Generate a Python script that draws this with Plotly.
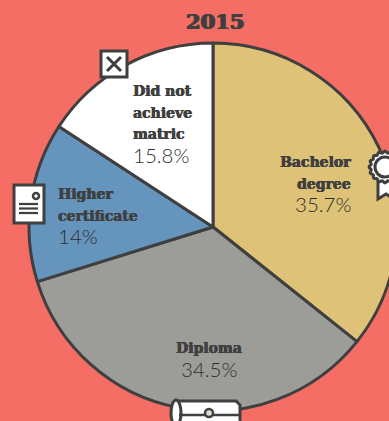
import math
import plotly.graph_objects as go

categories = ["Bachelor degree", "Diploma", "Higher certificate", "Did not achieve matric"]
values = [35.7, 34.5, 14, 15.8]
value_labels = ["35.7%", "34.5%", "14%", "15.8%"]
label_lines = [["Bachelor", "degree"], ["Diploma"], ["Higher", "certificate"], ["Did not", "achieve", "matric"]]
colors = ["#DEC277", "#9C9D98", "#6594BD", "#FFFFFF"]
title = "2015"

W, H = 430, 421
BG = "#F56E66"
DARK = "#3F3F3F"
CX, CY, R = 213, 227, 184


def px(x):
    return x / W


def py(y):
    return 1 - y / H


fig = go.Figure(go.Pie(
    labels=categories, values=values, sort=False, direction="clockwise", rotation=0,
    marker=dict(colors=colors, line=dict(color=DARK, width=3)),
    textinfo="none", hoverinfo="label+percent", showlegend=False,
    domain=dict(x=[(CX - R) / W, (CX + R) / W], y=[py(CY + R), py(CY - R)]),
))

ann = []


def text(x, y, s, size, family, anchor="left", shadow=None, color=DARK):
    font = dict(family=family, size=size, color=color)
    if shadow:
        font["shadow"] = shadow
    ann.append(dict(x=px(x), y=py(y), xref="paper", yref="paper", text=s, showarrow=False,
                    xanchor=anchor, yanchor="middle", align=anchor, font=font,
                    borderpad=0, borderwidth=0))


LBL = "DejaVu Serif"
NUM = "Lato Light, Lato"
HEAVY = f"0.5px 0 0 {DARK}, -0.3px 0 0 {DARK}"
text(215, 22, f"<b>{title}</b>", 21, LBL, "center", shadow=f"0.8px 0 0 {DARK}, -0.8px 0 0 {DARK}")

# (x, first line y, line step, anchor, value y)
placement = [
    (351, 162, 21.5, "right", 205),
    (209, 348, 0, "center", 370),
    (58, 194, 22, "left", 237),
    (133, 91, 21.5, "left", 156),
]
for lines, val, (x, y0, step, anchor, vy) in zip(label_lines, value_labels, placement):
    for i, ln in enumerate(lines):
        text(x, y0 + i * step, f"<b>{ln}</b>", 14, LBL, anchor, shadow=HEAVY)
    text(x, vy - 1, val, 20.5, NUM, anchor, color="#2E2E2E")

shapes = []
LINE = dict(color=DARK, width=3)


def rect(x0, y0, x1, y1, fill="#FFFFFF", line=LINE):
    shapes.append(dict(type="rect", xref="paper", yref="paper", x0=px(x0), x1=px(x1),
                       y0=py(y0), y1=py(y1), fillcolor=fill, line=line, layer="above"))


def seg(x0, y0, x1, y1, width=3):
    shapes.append(dict(type="line", xref="paper", yref="paper", x0=px(x0), x1=px(x1),
                       y0=py(y0), y1=py(y1), line=dict(color=DARK, width=width), layer="above"))


def circle(cx, cy, r, fill="#FFFFFF", width=3):
    shapes.append(dict(type="circle", xref="paper", yref="paper", x0=px(cx - r), x1=px(cx + r),
                       y0=py(cy + r), y1=py(cy - r), fillcolor=fill,
                       line=dict(color=DARK, width=width), layer="above"))


def path(points, fill="#FFFFFF"):
    d = "M " + " L ".join(f"{px(x):.5f},{py(y):.5f}" for x, y in points) + " Z"
    shapes.append(dict(type="path", xref="paper", yref="paper", path=d, fillcolor=fill,
                       line=LINE, layer="above"))


# cross box
rect(101, 51, 127, 77)
seg(107, 57, 121, 71)
seg(121, 57, 107, 71)

# document
rect(14, 185, 44, 223)
circle(36, 196, 3, fill="#FFFFFF", width=2.5)
for yy in (204, 208.5, 213):
    seg(19, yy, 38, yy, 2.2)

# rosette ribbon and badge
path([(378, 178), (378, 199), (386, 194), (394, 199), (394, 178)])
pts = []
for k in range(160):
    a = 2 * math.pi * k / 160
    r = 15 + 0.9 * math.cos(16 * a)
    pts.append((385 + r * math.cos(a), 167 + r * math.sin(a)))
path(pts)
circle(385, 167, 10, fill="#FFFFFF", width=3)

# scroll
path([(176, 401), (236, 401), (240, 405), (240, 425), (176, 425)])
shapes.append(dict(type="circle", xref="paper", yref="paper", x0=px(171), x1=px(181),
                   y0=py(426), y1=py(400), fillcolor="#FFFFFF", line=LINE, layer="above"))
seg(179, 415, 240, 415, 2.5)
circle(209, 413, 4, fill="#DDDDD0", width=2.5)

fig.update_layout(
    width=W, height=H, margin=dict(l=0, r=0, t=0, b=0),
    paper_bgcolor=BG, plot_bgcolor=BG, annotations=ann, shapes=shapes,
)
fig.write_html(
    "out.html",
    config={"displayModeBar": False},
    post_script="document.documentElement.style.overflow='hidden';document.body.style.overflow='hidden';document.body.style.margin='0';document.documentElement.style.background='%s';" % BG,
)
